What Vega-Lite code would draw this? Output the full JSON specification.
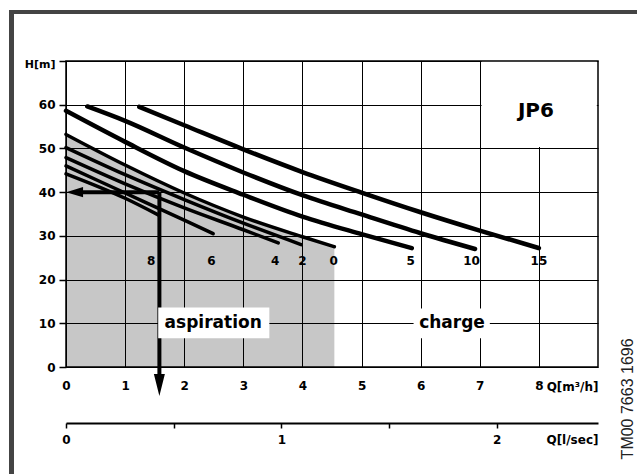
{
  "$schema": "https://vega.github.io/schema/vega-lite/v6.json",
  "padding": {"left": 8, "top": 9, "right": 0, "bottom": 0},
  "background": "white",
  "config": {"view": {"stroke": null}, "font": "DejaVu Sans"},
  "datasets": {
    "curves": [
      {"s": "15", "q": 1.24, "h": 59.5}, {"s": "15", "q": 2, "h": 55.3}, {"s": "15", "q": 3, "h": 49.8}, {"s": "15", "q": 4, "h": 44.6}, {"s": "15", "q": 5, "h": 39.9}, {"s": "15", "q": 6, "h": 35.4}, {"s": "15", "q": 7, "h": 31.2}, {"s": "15", "q": 8, "h": 27.2},
      {"s": "10", "q": 0.36, "h": 59.6}, {"s": "10", "q": 1, "h": 56.3}, {"s": "10", "q": 2, "h": 50.2}, {"s": "10", "q": 3, "h": 44.5}, {"s": "10", "q": 4, "h": 39.3}, {"s": "10", "q": 5, "h": 34.9}, {"s": "10", "q": 6, "h": 30.6}, {"s": "10", "q": 6.92, "h": 27.0},
      {"s": "5", "q": 0, "h": 58.6}, {"s": "5", "q": 1, "h": 51.5}, {"s": "5", "q": 2, "h": 44.8}, {"s": "5", "q": 3, "h": 39.4}, {"s": "5", "q": 4, "h": 34.4}, {"s": "5", "q": 5, "h": 30.4}, {"s": "5", "q": 5.85, "h": 27.2},
      {"s": "0", "q": 0, "h": 53.2}, {"s": "0", "q": 1, "h": 46.2}, {"s": "0", "q": 2, "h": 39.8}, {"s": "0", "q": 3, "h": 34.3}, {"s": "0", "q": 4, "h": 29.8}, {"s": "0", "q": 4.54, "h": 27.5},
      {"s": "2", "q": 0, "h": 50.2}, {"s": "2", "q": 1, "h": 44.0}, {"s": "2", "q": 2, "h": 38.3}, {"s": "2", "q": 3, "h": 32.9}, {"s": "2", "q": 3.98, "h": 28.0},
      {"s": "4", "q": 0, "h": 47.9}, {"s": "4", "q": 1, "h": 41.9}, {"s": "4", "q": 2, "h": 36.4}, {"s": "4", "q": 3, "h": 31.4}, {"s": "4", "q": 3.59, "h": 28.4},
      {"s": "6", "q": 0, "h": 46.0}, {"s": "6", "q": 1, "h": 39.8}, {"s": "6", "q": 2, "h": 33.6}, {"s": "6", "q": 2.49, "h": 30.5},
      {"s": "8", "q": 0, "h": 44.2}, {"s": "8", "q": 1, "h": 38.6}, {"s": "8", "q": 1.56, "h": 34.8}
    ],
    "curveLabels": [
      {"t": "8", "q": 1.44, "h": 24.3}, {"t": "6", "q": 2.46, "h": 24.3}, {"t": "4", "q": 3.54, "h": 24.3}, {"t": "2", "q": 4.0, "h": 24.3}, {"t": "0", "q": 4.53, "h": 24.3},
      {"t": "5", "q": 5.83, "h": 24.3}, {"t": "10", "q": 6.86, "h": 24.3}, {"t": "15", "q": 8.0, "h": 24.3}
    ],
    "boxes": [
      {"q1": 1.56, "q2": 3.44, "h1": 6.6, "h2": 13.6},
      {"q1": 5.88, "q2": 7.17, "h1": 6.6, "h2": 13.4},
      {"q1": 7.03, "q2": 8.98, "h1": 50.3, "h2": 69.8}
    ],
    "bigText": [
      {"t": "aspiration", "q": 2.49, "h": 10},
      {"t": "charge", "q": 6.53, "h": 10}
    ],
    "arrows": [
      {"q": 0.2, "h": 40, "q2": 1.58, "h2": 40},
      {"q": 1.58, "h": 40, "q2": 1.58, "h2": -2.5}
    ]
  },
  "vconcat": [
    {
      "width": 629, "height": 4,
      "view": {"fill": "#444444", "stroke": null},
      "data": {"values": [{}]},
      "mark": {"type": "point", "opacity": 0},
      "encoding": {}
    },
    {
      "hconcat": [
        {
          "width": 5, "height": 461,
          "view": {"fill": "#444444", "stroke": null},
          "data": {"values": [{}]},
          "mark": {"type": "point", "opacity": 0},
          "encoding": {}
        },
        {
          "vconcat": [
            {
              "width": 532, "height": 47,
              "view": {"stroke": null},
              "data": {"values": [{}]},
              "mark": {"type": "point", "opacity": 0},
              "encoding": {}
            },
            {
              "width": 532, "height": 306,
              "view": {"stroke": "black", "strokeWidth": 1.5},
              "resolve": {"scale": {"x": "independent"}, "axis": {"x": "independent"}},
              "layer": [
                {
                  "layer": [
                    {
                      "data": {"name": "curves"},
                      "transform": [{"filter": "datum.s == '0'"}],
                      "mark": {"type": "area", "color": "black", "opacity": 0.22, "interpolate": "monotone"},
                      "encoding": {
                        "x": {"field": "q", "type": "quantitative",
                          "scale": {"domain": [0, 9], "nice": false, "zero": false},
                          "axis": {"values": [0, 1, 2, 3, 4, 5, 6, 7, 8], "format": "d", "grid": true, "gridColor": "black", "gridWidth": 1, "gridOpacity": 1,
                            "ticks": false, "domain": false, "labelFlush": false, "labelOverlap": false,
                            "labelFont": "DejaVu Sans", "labelFontWeight": "bold", "labelFontSize": 12, "labelColor": "black", "labelPadding": 13,
                            "title": "Q[m³/h]", "titleX": 532, "titleY": 19, "titleAlign": "right", "titleBaseline": "middle", "titleAnchor": null,
                            "titleFont": "DejaVu Sans", "titleFontSize": 12, "titleFontWeight": "bold", "titleColor": "black"}},
                        "y": {"field": "h", "type": "quantitative",
                          "scale": {"domain": [0, 70], "nice": false},
                          "axis": {"values": [0, 10, 20, 30, 40, 50, 60, 70], "format": "d", "grid": true, "gridColor": "black", "gridWidth": 1, "gridOpacity": 1,
                            "ticks": true, "tickSize": 7, "tickColor": "black", "tickWidth": 1.5, "domain": false, "labelFlush": false,
                            "labelExpr": "datum.value == 70 ? '' : datum.label",
                            "labelFont": "DejaVu Sans", "labelFontWeight": "bold", "labelFontSize": 12, "labelColor": "black", "labelPadding": 4,
                            "title": "H[m]", "titleAngle": 0, "titleX": -11, "titleY": 3, "titleAlign": "right", "titleBaseline": "middle", "titleAnchor": null,
                            "titleFont": "DejaVu Sans", "titleFontSize": 11, "titleFontWeight": "bold", "titleColor": "black"}}
                      }
                    },
                    {
                      "data": {"name": "curves"},
                      "transform": [{"filter": {"field": "s", "oneOf": ["5", "10", "15"]}}],
                      "mark": {"type": "line", "color": "black", "strokeWidth": 4.5, "strokeCap": "round", "interpolate": "monotone"},
                      "encoding": {
                        "x": {"field": "q", "type": "quantitative"},
                        "y": {"field": "h", "type": "quantitative"},
                        "detail": {"field": "s"}
                      }
                    },
                    {
                      "data": {"name": "curves"},
                      "transform": [{"filter": {"field": "s", "oneOf": ["0", "2", "4", "6", "8"]}}],
                      "mark": {"type": "line", "color": "black", "strokeWidth": 3.5, "strokeCap": "round", "interpolate": "monotone"},
                      "encoding": {
                        "x": {"field": "q", "type": "quantitative"},
                        "y": {"field": "h", "type": "quantitative"},
                        "detail": {"field": "s"}
                      }
                    },
                    {
                      "data": {"name": "arrows"},
                      "mark": {"type": "rule", "color": "black", "strokeWidth": 4, "strokeCap": "butt"},
                      "encoding": {
                        "x": {"field": "q", "type": "quantitative"},
                        "x2": {"field": "q2"},
                        "y": {"field": "h", "type": "quantitative"},
                        "y2": {"field": "h2"}
                      }
                    },
                    {
                      "data": {"values": [{"q": 0.145, "h": 40}]},
                      "mark": {"type": "point", "shape": "M1,-0.6L1,0.6L-1,0Z", "size": 289, "filled": true, "color": "black", "opacity": 1},
                      "encoding": {
                        "x": {"field": "q", "type": "quantitative"},
                        "y": {"field": "h", "type": "quantitative"}
                      }
                    },
                    {
                      "data": {"values": [{"q": 1.58, "h": -4.1}]},
                      "mark": {"type": "point", "shape": "M-0.5,-1L0.5,-1L0,1Z", "size": 484, "filled": true, "color": "black", "opacity": 1},
                      "encoding": {
                        "x": {"field": "q", "type": "quantitative"},
                        "y": {"field": "h", "type": "quantitative"}
                      }
                    },
                    {
                      "data": {"name": "boxes"},
                      "mark": {"type": "rect", "color": "white", "opacity": 1},
                      "encoding": {
                        "x": {"field": "q1", "type": "quantitative"},
                        "x2": {"field": "q2"},
                        "y": {"field": "h1", "type": "quantitative"},
                        "y2": {"field": "h2"}
                      }
                    },
                    {
                      "data": {"name": "bigText"},
                      "mark": {"type": "text", "font": "DejaVu Sans", "fontWeight": "bold", "fontSize": 17, "color": "black", "baseline": "middle", "align": "center"},
                      "encoding": {
                        "x": {"field": "q", "type": "quantitative"},
                        "y": {"field": "h", "type": "quantitative"},
                        "text": {"field": "t"}
                      }
                    },
                    {
                      "data": {"values": [{"t": "JP6", "q": 7.95, "h": 58.6}]},
                      "mark": {"type": "text", "font": "DejaVu Sans", "fontWeight": "bold", "fontSize": 20, "color": "black", "baseline": "middle", "align": "center"},
                      "encoding": {
                        "x": {"field": "q", "type": "quantitative"},
                        "y": {"field": "h", "type": "quantitative"},
                        "text": {"field": "t"}
                      }
                    },
                    {
                      "data": {"name": "curveLabels"},
                      "mark": {"type": "text", "font": "DejaVu Sans", "fontWeight": "bold", "fontSize": 12, "color": "black", "baseline": "middle", "align": "center"},
                      "encoding": {
                        "x": {"field": "q", "type": "quantitative"},
                        "y": {"field": "h", "type": "quantitative"},
                        "text": {"field": "t"}
                      }
                    },
                    {
                      "data": {"values": [{"t": "TM00 7663 1696", "q": 9.51, "h": -7.3}]},
                      "mark": {"type": "text", "font": "Liberation Sans", "fontSize": 16, "color": "#222222", "baseline": "middle", "align": "center", "angle": 270},
                      "encoding": {
                        "x": {"field": "q", "type": "quantitative"},
                        "y": {"field": "h", "type": "quantitative"},
                        "text": {"field": "t"}
                      }
                    }
                  ]
                },
                {
                  "data": {"values": [{"v": 0}, {"v": 2.47}]},
                  "mark": {"type": "point", "opacity": 0},
                  "encoding": {
                    "x": {"field": "v", "type": "quantitative",
                      "scale": {"domain": [0, 2.47], "nice": false, "zero": false},
                      "axis": {"orient": "bottom", "offset": 56, "values": [0, 0.5, 1, 1.5, 2], "grid": false, "format": "~g",
                        "labelExpr": "datum.value % 1 == 0 ? datum.label : ''",
                        "domain": true, "domainColor": "black", "domainWidth": 2,
                        "ticks": true, "tickColor": "black", "tickWidth": 1.5, "tickSize": 5,
                        "labelFlush": false, "labelOverlap": false,
                        "labelFont": "DejaVu Sans", "labelFontWeight": "bold", "labelFontSize": 12, "labelColor": "black", "labelPadding": 6,
                        "title": "Q[l/sec]", "titleX": 532, "titleY": 16, "titleAlign": "right", "titleBaseline": "middle", "titleAnchor": null,
                        "titleFont": "DejaVu Sans", "titleFontSize": 12, "titleFontWeight": "bold", "titleColor": "black"}}
                  }
                }
              ]
            }
          ],
          "spacing": 0,
          "bounds": "flush"
        }
      ],
      "spacing": 52,
      "bounds": "flush"
    }
  ],
  "spacing": 0,
  "bounds": "flush"
}
